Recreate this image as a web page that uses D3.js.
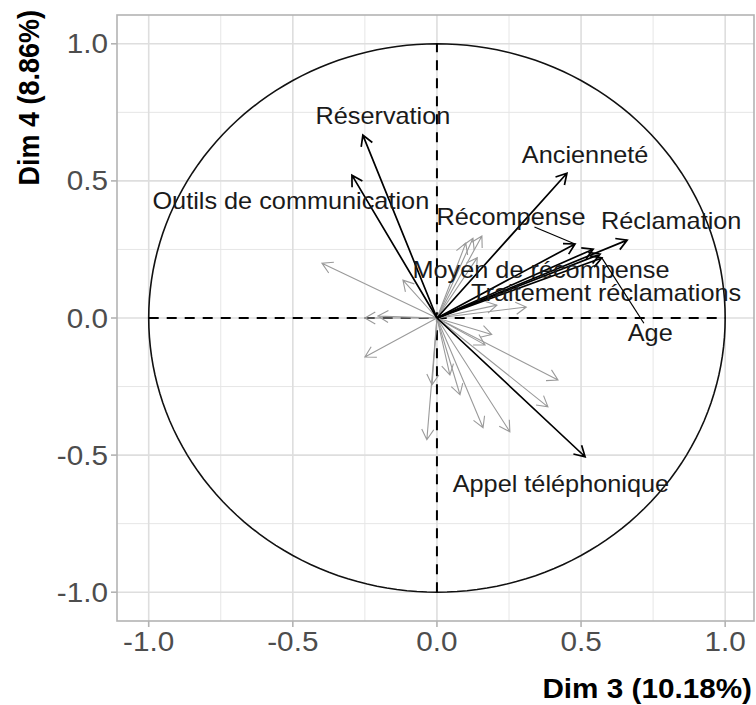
<!doctype html>
<meta charset="utf-8">
<style>
body { margin: 0; background: #fff; }
#chart { font-family: "Liberation Sans", Arial, sans-serif; }
.grid-major { stroke: #dedede; stroke-width: 1.6; }
.grid-minor { stroke: #e6e6e6; stroke-width: 1; }
.tick-label { fill: #4d4d4d; font-size: 27px; }
.axis-title { fill: #000; font-size: 27px; font-weight: bold; }
.var-label { fill: #1a1a1a; font-size: 23px; }
</style>
<div id="chart"></div>
<script src="https://cdn.jsdelivr.net/npm/d3@7"></script>
<script>
// labelled variables (black arrows)
var varNames = ['Réservation', 'Outils de communication', 'Ancienneté', 'Récompense',
    'Réclamation', 'Moyen de récompense', 'Traitement réclamations', 'Age', 'Appel téléphonique'];
var varDim3 = [-0.257, -0.295, 0.451, 0.479, 0.66, 0.542, 0.566, 0.572, 0.514];
var varDim4 = [0.667, 0.521, 0.528, 0.27, 0.284, 0.251, 0.233, 0.219, -0.506];
// where the (repelled) labels sit, in the same units
var labelDim3 = [-0.1875, -0.507, 0.514, 0.257, 0.8125, 0.361, 0.587, 0.74, 0.43];
var labelDim4 = [0.736, 0.426, 0.594, 0.368, 0.353, 0.175, 0.091, -0.055, -0.605];
// labels that got a leader segment
var leaderFor = ['Récompense', 'Age'];

// other variables (grey arrows, no label)
var otherDim3 = [-0.399, -0.118, -0.25, -0.205, -0.25, 0.125, 0.156, 0.1, 0.31, 0.208,
    0.42, 0.385, 0.253, 0.16, -0.035, -0.017, 0.08, 0.167, 0.045, 0.14, 0.19];
var otherDim4 = [0.2, 0.138, 0.0, 0.007, -0.142, 0.291, 0.299, 0.273, 0.04, 0.047,
    -0.226, -0.324, -0.415, -0.4, -0.444, -0.244, -0.28, -0.098, -0.208, 0.22, -0.06];

var ticks = [-1.0, -0.5, 0.0, 0.5, 1.0];
var minorTicks = [-0.75, -0.25, 0.25, 0.75];
var xTitle = 'Dim 3 (10.18%)';
var yTitle = 'Dim 4 (8.86%)';
</script>
<script>
var width = 756;
var height = 705;
var margin = {top: 15, right: 2, bottom: 84, left: 117};
var stretch = 1.1; // text in the picture is a little wider than it is tall

var svg = d3.select('#chart').append('svg')
    .attr('width', width)
    .attr('height', height)
    .style('display', 'block');

var x = d3.scaleLinear()
    .domain([-1.11, 1.10])
    .range([margin.left, width - margin.right]);
var y = d3.scaleLinear()
    .domain([-1.105, 1.105])
    .range([height - margin.bottom, margin.top]);

function placeText (sel, px, py, rot) {
    return sel.attr('transform', 'translate(' + px + ',' + py + ') scale(' + stretch + ',1)' +
        (rot ? ' rotate(' + rot + ')' : ''));
}

// grid
var grid = svg.append('g');
grid.selectAll('.vminor').data(minorTicks).enter().append('line')
    .attr('class', 'grid-minor')
    .attr('x1', function (d) { return x(d); }).attr('x2', function (d) { return x(d); })
    .attr('y1', y.range()[0]).attr('y2', y.range()[1]);
grid.selectAll('.hminor').data(minorTicks).enter().append('line')
    .attr('class', 'grid-minor')
    .attr('y1', function (d) { return y(d); }).attr('y2', function (d) { return y(d); })
    .attr('x1', x.range()[0]).attr('x2', x.range()[1]);
grid.selectAll('.vmajor').data(ticks).enter().append('line')
    .attr('class', 'grid-major')
    .attr('x1', function (d) { return x(d); }).attr('x2', function (d) { return x(d); })
    .attr('y1', y.range()[0]).attr('y2', y.range()[1]);
grid.selectAll('.hmajor').data(ticks).enter().append('line')
    .attr('class', 'grid-major')
    .attr('y1', function (d) { return y(d); }).attr('y2', function (d) { return y(d); })
    .attr('x1', x.range()[0]).attr('x2', x.range()[1]);

// unit circle
var circle = d3.range(0, 361, 2).map(function (a) {
    var r = a * Math.PI / 180;
    return [Math.cos(r), Math.sin(r)];
});
svg.append('path')
    .datum(circle)
    .attr('d', d3.line().x(function (d) { return x(d[0]); }).y(function (d) { return y(d[1]); }))
    .attr('fill', 'none')
    .attr('stroke', '#111')
    .attr('stroke-width', 1.6);

// zero lines
svg.append('line')
    .attr('x1', x(-1)).attr('x2', x(1)).attr('y1', y(0)).attr('y2', y(0))
    .attr('stroke', '#000').attr('stroke-width', 2).attr('stroke-dasharray', '10,8');
svg.append('line')
    .attr('y1', y(-1)).attr('y2', y(1)).attr('x1', x(0)).attr('x2', x(0))
    .attr('stroke', '#000').attr('stroke-width', 2).attr('stroke-dasharray', '10,8');

/**
 * draws arrows from the origin to each point, with an open head
 */
function drawArrows (g, xs, ys, color, lw) {
    var pts = xs.map(function (v, i) { return [x(v), y(ys[i])]; });
    var x0 = x(0), y0 = y(0), head = 12;
    g.selectAll('path.arrow').data(pts).enter().append('path')
        .attr('class', 'arrow')
        .attr('fill', 'none')
        .attr('stroke', color)
        .attr('stroke-width', lw)
        .attr('d', function (p) {
            var a = Math.atan2(p[1] - y0, p[0] - x0);
            var a1 = a + Math.PI - Math.PI / 6, a2 = a + Math.PI + Math.PI / 6;
            return 'M' + x0 + ',' + y0 + 'L' + p[0] + ',' + p[1] +
                'M' + (p[0] + head * Math.cos(a1)) + ',' + (p[1] + head * Math.sin(a1)) +
                'L' + p[0] + ',' + p[1] +
                'L' + (p[0] + head * Math.cos(a2)) + ',' + (p[1] + head * Math.sin(a2));
        });
}
drawArrows(svg.append('g'), otherDim3, otherDim4, '#9a9a9a', 1.1);
drawArrows(svg.append('g'), varDim3, varDim4, '#000', 1.7);

// leader segments + labels
var labels = svg.append('g');
varNames.forEach(function (name, i) {
    var lx = x(labelDim3[i]), ly = y(labelDim4[i]);
    var t = labels.append('text')
        .attr('class', 'var-label')
        .attr('text-anchor', 'middle')
        .attr('dominant-baseline', 'central')
        .text(name);
    placeText(t, lx, ly);
    if (leaderFor.indexOf(name) >= 0) {
        var bb = t.node().getBBox();
        var hw = bb.width * stretch / 2, hh = bb.height / 2 - 3;
        var px = x(varDim3[i]), py = y(varDim4[i]);
        var dx = px - lx, dy = py - ly;
        var s = Math.min(Math.abs(hw / dx), Math.abs(hh / dy));
        labels.append('line')
            .attr('x1', lx + dx * s).attr('y1', ly + dy * s)
            .attr('x2', px).attr('y2', py)
            .attr('stroke', '#000').attr('stroke-width', 1.2);
    }
});

// panel border
svg.append('rect')
    .attr('x', x.range()[0]).attr('y', y.range()[1])
    .attr('width', x.range()[1] - x.range()[0])
    .attr('height', y.range()[0] - y.range()[1])
    .attr('fill', 'none').attr('stroke', '#b3b3b3').attr('stroke-width', 1.6);

// ticks
var fmt = function (v) { return v.toFixed(1); };
var axes = svg.append('g');
ticks.forEach(function (v) {
    axes.append('line')
        .attr('x1', x(v)).attr('x2', x(v))
        .attr('y1', y.range()[0]).attr('y2', y.range()[0] + 6)
        .attr('stroke', '#b3b3b3').attr('stroke-width', 1.6);
    placeText(axes.append('text')
        .attr('class', 'tick-label')
        .attr('text-anchor', 'middle')
        .attr('dominant-baseline', 'central')
        .text(fmt(v)), x(v), y.range()[0] + 20);
    axes.append('line')
        .attr('x1', x.range()[0] - 6).attr('x2', x.range()[0])
        .attr('y1', y(v)).attr('y2', y(v))
        .attr('stroke', '#b3b3b3').attr('stroke-width', 1.6);
    placeText(axes.append('text')
        .attr('class', 'tick-label')
        .attr('text-anchor', 'end')
        .attr('dominant-baseline', 'central')
        .text(fmt(v)), x.range()[0] - 9, y(v));
});

// axis titles
placeText(svg.append('text')
    .attr('class', 'axis-title')
    .attr('text-anchor', 'end')
    .attr('dominant-baseline', 'central')
    .text(xTitle), width - 4, 688);
placeText(svg.append('text')
    .attr('class', 'axis-title')
    .attr('text-anchor', 'end')
    .attr('dominant-baseline', 'central')
    .text(yTitle), 29, y.range()[1] - 5, -90);
</script>
